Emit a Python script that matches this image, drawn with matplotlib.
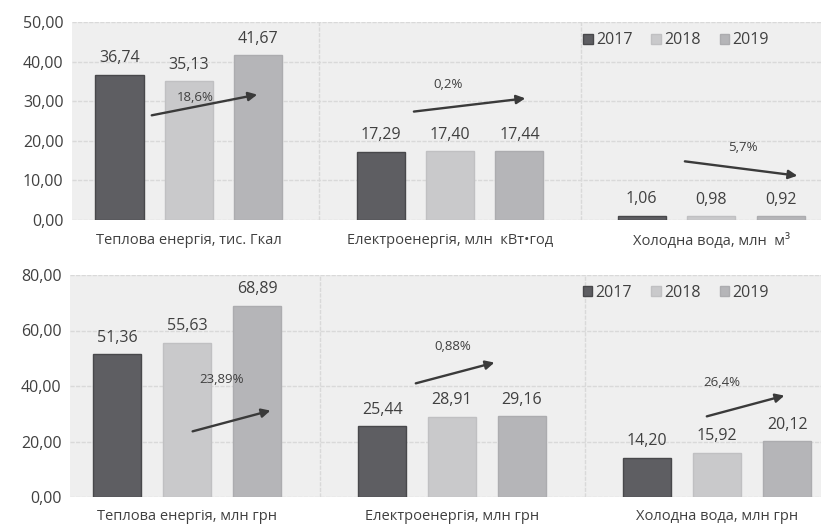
import numpy as np
import matplotlib
matplotlib.use("Agg")
import matplotlib.pyplot as plt

plt.rcParams["font.family"] = ["Open Sans", "DejaVu Sans"]

years = ["2017", "2018", "2019"]

top_categories = ["Теплова енергія, тис. Гкал", "Електроенергія, млн  кВт•год",
                  "Холодна вода, млн  м³"]
top_2017 = [36.74, 17.29, 1.06]
top_2018 = [35.13, 17.40, 0.98]
top_2019 = [41.67, 17.44, 0.92]
top_change = ["18,6%", "0,2%", "5,7%"]
top_ticks = [0, 10, 20, 30, 40, 50]

bot_categories = ["Теплова енергія, млн грн", "Електроенергія, млн грн",
                  "Холодна вода, млн грн"]
bot_2017 = [51.36, 25.44, 14.20]
bot_2018 = [55.63, 28.91, 15.92]
bot_2019 = [68.89, 29.16, 20.12]
bot_change = ["23,89%", "0,88%", "26,4%"]
bot_ticks = [0, 20, 40, 60, 80]

COLORS = ["#5e5e62", "#c9c9cb", "#b5b5b8"]
EDGES = ["#48484b", "#c0c0c2", "#acacaf"]
TEXT = "#404040"


def fmt(v):
    return f"{v:.2f}".replace(".", ",")


def draw_panel(ax, cats, series, ticks, xlim, offs, width, changes, arrows, labels_at):
    x = np.arange(len(cats))
    ax.set_facecolor("#efefef")
    ax.set_xlim(*xlim)
    ax.set_ylim(ticks[0], ticks[-1])
    for i, vals in enumerate(series):
        bars = ax.bar(x + (i - 1) * offs, vals, width, color=COLORS[i],
                      edgecolor=EDGES[i], linewidth=1, label=years[i], zorder=3)
        ax.bar_label(bars, labels=[fmt(v) for v in vals], padding=6,
                     fontsize=11.5, color=TEXT)
    ax.set_yticks(ticks)
    ax.set_yticklabels([fmt(t) for t in ticks], fontsize=11.5, color=TEXT)
    ax.set_xticks(x)
    ax.set_xticklabels(cats, fontsize=10.5, color=TEXT)
    ax.set_xticks(x[:-1] + 0.5, minor=True)
    ax.tick_params(axis="y", length=0, pad=6)
    ax.tick_params(axis="x", length=0, pad=9)
    ax.tick_params(axis="x", which="minor", length=0)
    ax.grid(axis="y", color="#d9d9d9", linewidth=1, linestyle=(0, (3, 1)), zorder=1)
    ax.grid(axis="x", which="minor", color="#d9d9d9", linewidth=1,
            linestyle=(0, (3, 1)), zorder=1)
    for s in ax.spines.values():
        s.set_visible(False)
    for k, (txt, arr, lab) in enumerate(zip(changes, arrows, labels_at)):
        (x0, y0), (x1, y1) = arr
        ax.annotate("", xy=(k + x1, y1), xytext=(k + x0, y0),
                    arrowprops=dict(arrowstyle="-|>", color="#3a3a3a", lw=1.7,
                                    mutation_scale=13), zorder=5)
        ax.text(k + lab[0], lab[1], txt, ha="center", va="center",
                fontsize=9.5, color=TEXT, zorder=6)
    leg = ax.legend(loc="upper right", bbox_to_anchor=(0.95, 1.02), ncol=3,
                    frameon=False, fontsize=11.5, handlelength=0.6,
                    handleheight=0.6, handletextpad=0.2, columnspacing=1.2)
    for t in leg.get_texts():
        t.set_color(TEXT)


fig = plt.figure(figsize=(8.21, 5.27), dpi=100)

ax1 = fig.add_axes([72 / 821, 1 - 220 / 527, 749 / 821, 198 / 527])
draw_panel(ax1, top_categories, [top_2017, top_2018, top_2019], top_ticks,
           (-0.448, 2.421), 0.266, 0.184, top_change,
           [((-0.153, 26.3), (0.272, 31.8)),
            ((-0.149, 27.3), (0.299, 30.8)),
            ((-0.111, 14.9), (0.341, 11.1))],
           [(0.023, 31.0), (-0.008, 34.1), (0.123, 18.4)])

ax2 = fig.add_axes([70 / 821, 1 - 497 / 527, 751 / 821, 222 / 527])
draw_panel(ax2, bot_categories, [bot_2017, bot_2018, bot_2019], bot_ticks,
           (-0.4415, 2.392), 0.264, 0.181, bot_change,
           [((0.011, 23.4), (0.325, 31.4)),
            ((-0.147, 40.7), (0.170, 48.7)),
            ((-0.049, 28.8), (0.264, 36.8))],
           [(0.132, 42.5), (0.004, 54.4), (0.019, 41.1)])

fig.savefig("out.png", dpi=100)
